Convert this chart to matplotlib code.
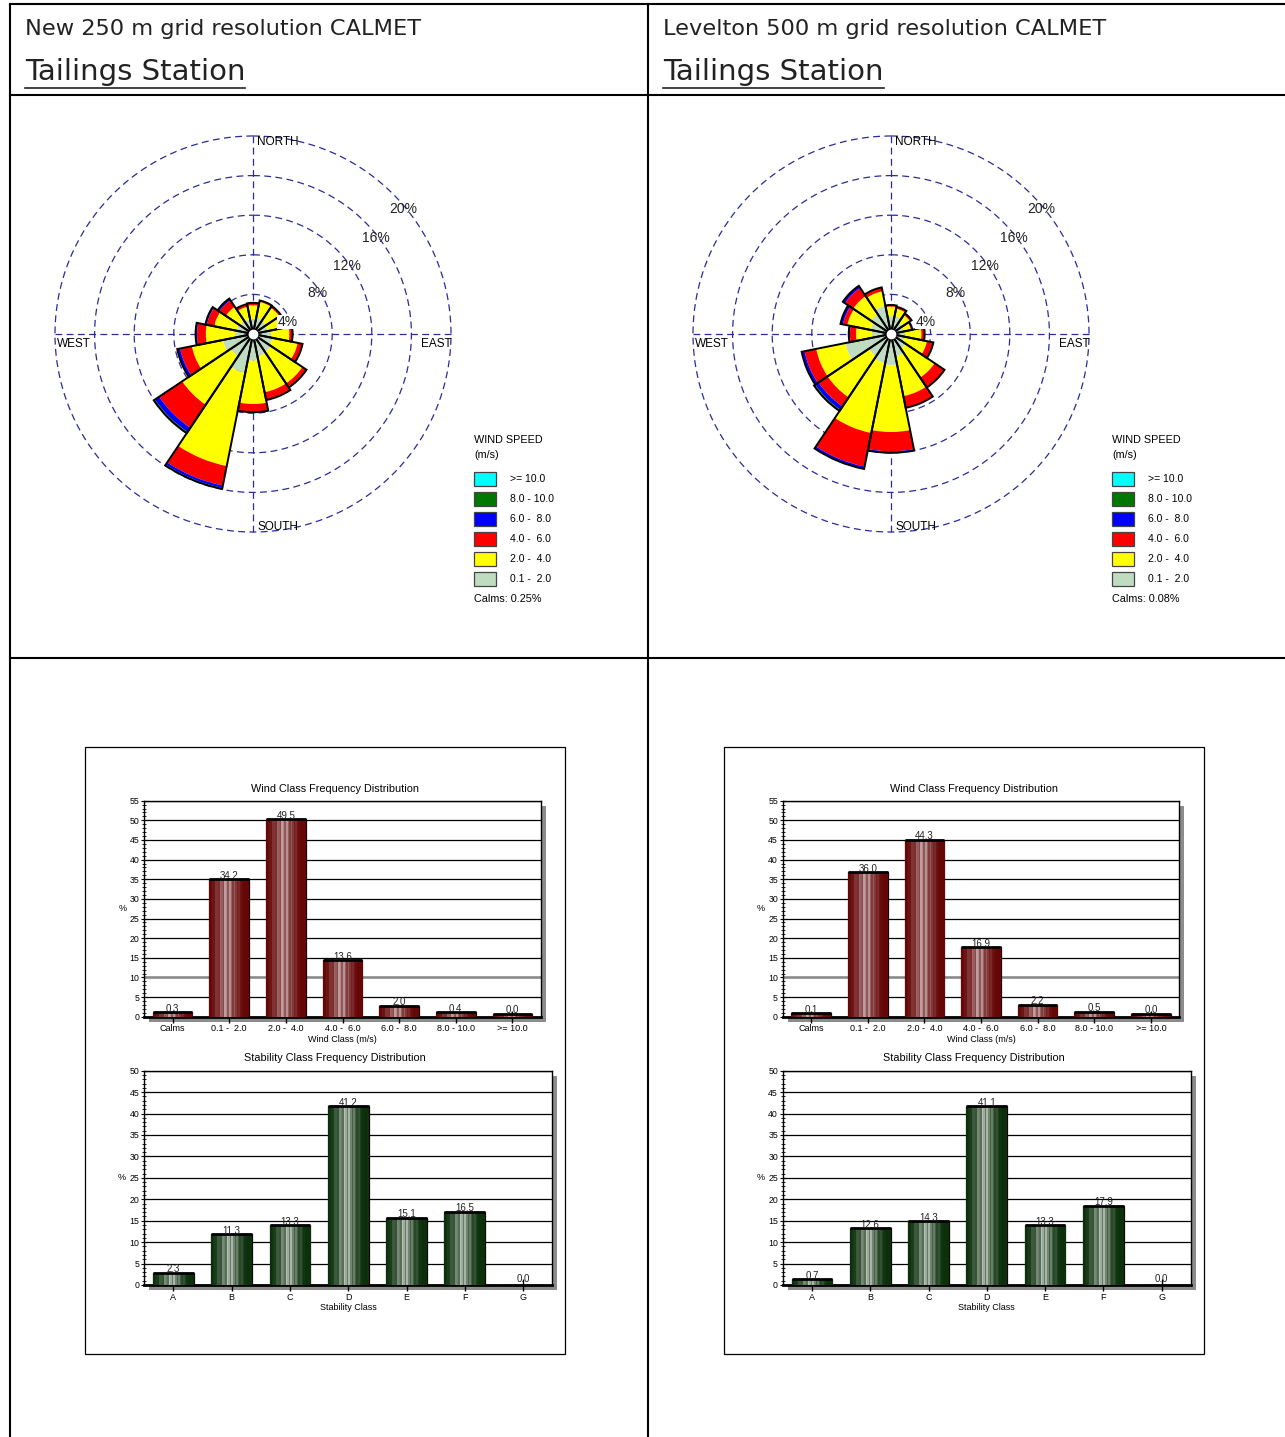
import numpy as np
import matplotlib
matplotlib.use("Agg")
import matplotlib.pyplot as plt
from matplotlib import font_manager
from matplotlib.patches import Rectangle
from matplotlib.lines import Line2D

W, H = 1285, 1437

names = {f.name for f in font_manager.fontManager.ttflist}
ARIAL = "Liberation Sans" if "Liberation Sans" in names else "DejaVu Sans"
NARROW = "Liberation Sans Narrow" if "Liberation Sans Narrow" in names else ARIAL
plt.rcParams["font.family"] = [ARIAL, "DejaVu Sans"]

# ---------------- data ----------------
directions = ["N", "NNE", "NE", "ENE", "E", "ESE", "SE", "SSE",
              "S", "SSW", "SW", "WSW", "W", "WNW", "NW", "NNW"]

# left rose: new 250 m CALMET (% per speed class and direction)
grey_L = [1.5, 1.7, 1.6, 1.5, 1.8, 2.0, 2.2, 2.3, 2.7, 4.0, 2.7, 3.1, 1.8, 1.7, 1.6, 1.5]
yellow_L = [1.4, 1.6, 1.6, 1.45, 1.87, 2.6, 3.8, 3.7, 4.37, 9.6, 5.9, 3.2, 2.97, 2.3, 1.7, 1.3]
red_L = [0.25, 0.15, 0.2, 0.15, 0.33, 0.5, 0.5, 0.8, 0.83, 2.0, 2.8, 1.2, 0.88, 0.75, 0.8, 0.27]
blue_L = [0, 0, 0, 0, 0, 0, 0, 0, 0, 0.25, 0.5, 0.3, 0.15, 0.15, 0.2, 0]
green_L = [0, 0, 0, 0, 0, 0, 0, 0, 0, 0.1, 0.15, 0, 0, 0, 0, 0]
cyan_L = [0] * 16
calms_L = 0.25

# right rose: Levelton 500 m CALMET
grey_R = [1.77, 1.85, 1.4, 1.2, 1.4, 1.4, 1.8, 2.3, 3.17, 3.0, 2.7, 4.7, 1.93, 2.1, 2.4, 2.9]
yellow_R = [1.0, 0.75, 0.9, 0.85, 1.67, 2.3, 3.5, 4.1, 6.73, 7.2, 5.0, 3.0, 1.6, 2.4, 2.2, 1.5]
red_R = [0.16, 0.2, 0.2, 0.15, 0.33, 0.66, 1.2, 1.2, 1.95, 3.45, 1.1, 1.2, 0.62, 0.45, 1.0, 0.4]
blue_R = [0, 0, 0, 0, 0, 0, 0, 0, 0.15, 0.25, 0.4, 0.3, 0.12, 0.25, 0.25, 0]
green_R = [0, 0, 0, 0, 0, 0, 0, 0, 0, 0, 0.15, 0, 0, 0, 0, 0]
cyan_R = [0] * 16
calms_R = 0.08

speed_colors = ["#c0dcc0", "#ffff00", "#ff0000", "#0000ff", "#007800", "#00ffff"]
legend_labels = [">= 10.0", "8.0 - 10.0", "6.0 -  8.0", "4.0 -  6.0", "2.0 -  4.0", "0.1 -  2.0"]
legend_colors = ["#00ffff", "#007800", "#0000ff", "#ff0000", "#ffff00", "#c0dcc0"]
rings = [4, 8, 12, 16, 20]

wind_classes = ["Calms", "0.1 -  2.0", "2.0 -  4.0", "4.0 -  6.0", "6.0 -  8.0", "8.0 - 10.0", ">= 10.0"]
wind_L = [0.3, 34.2, 49.5, 13.6, 2.0, 0.4, 0.0]
wind_R = [0.1, 36.0, 44.3, 16.9, 2.2, 0.5, 0.0]

stab_classes = ["A", "B", "C", "D", "E", "F", "G"]
stab_L = [2.3, 11.3, 13.3, 41.2, 15.1, 16.5, 0.0]
stab_R = [0.7, 12.6, 14.3, 41.1, 13.3, 17.9, 0.0]

fig = plt.figure(figsize=(W / 100, H / 100), dpi=100)


def fx(x):
    return x / W


def fy(y):
    return 1 - y / H


def fig_line(x0, y0, x1, y1, lw=1.5, color="black"):
    fig.add_artist(Line2D([fx(x0), fx(x1)], [fy(y0), fy(y1)], color=color, lw=lw,
                          transform=fig.transFigure))


# table frame
fig_line(10, 4, 1285, 4)
fig_line(10, 4, 10, 1437)
fig_line(648, 4, 648, 1437)
fig_line(10, 95, 1285, 95)
fig_line(10, 658, 1285, 658)

# headers
for x0, sub in [(25, "New 250 m grid resolution CALMET"), (663, "Levelton 500 m grid resolution CALMET")]:
    fig.text(fx(x0), fy(29), sub, fontsize=16.2, va="center", family="DejaVu Sans", color="#222222")
    t = fig.text(fx(x0), fy(72), "Tailings Station", fontsize=21, va="center",
                 family="DejaVu Sans", color="#222222")
    fig.canvas.draw()
    bb = t.get_window_extent()
    fig_line(x0, 88, x0 + bb.width, 88, lw=1.2, color="#222222")


def draw_rose(cx, cy, classes, calms, lx):
    R = 200
    ax = fig.add_axes([fx(cx - R), fy(cy + R), 2 * R / W, 2 * R / H], projection="polar")
    ax.set_theta_zero_location("N")
    ax.set_theta_direction(-1)
    ax.axis("off")
    ring_c = "#2b2b9a"
    tt = np.linspace(0, 2 * np.pi, 500)
    for r in rings:
        ax.plot(tt, np.full_like(tt, r), color=ring_c, lw=0.9, ls=(0, (5.5, 3.5)), zorder=1)
    for a in [0, 90, 180, 270]:
        ax.plot([np.deg2rad(a)] * 2, [0, 20], color=ring_c, lw=0.9, ls=(0, (5.5, 3.5)), zorder=1)

    theta = np.deg2rad(np.arange(16) * 22.5)
    width = np.deg2rad(22.5)
    bottom = np.zeros(16)
    for vals, col in zip(classes, speed_colors):
        vals = np.asarray(vals, dtype=float)
        ax.bar(theta, vals, width=width, bottom=bottom, color=col, edgecolor="none", zorder=3)
        bottom = bottom + vals
    ax.bar(theta, bottom, width=width, fill=False, edgecolor="black", lw=1.4, zorder=4)
    ax.plot([0], [0], "o", ms=6, mfc="white", mec="white", zorder=5)
    ax.set_ylim(0, 20.2)

    for r, ang in zip(rings, [71, 57.6, 54, 52, 50.3]):
        ax.text(np.deg2rad(ang), r - 0.3, f"{r}%", ha="center", va="center", fontsize=10,
                color="#222222", zorder=6,
                bbox=dict(fc="white", ec="none", pad=0.3) if r == 4 else None)
    ax.text(0.51, 0.98, "NORTH", transform=ax.transAxes, fontsize=8.5, va="center", ha="left", zorder=6)
    ax.text(0.51, 0.018, "SOUTH", transform=ax.transAxes, fontsize=8.5, va="center", ha="left", zorder=6)
    ax.text(0.01, 0.475, "WEST", transform=ax.transAxes, fontsize=8.5, va="center", ha="left", zorder=6)
    ax.text(0.997, 0.475, "EAST", transform=ax.transAxes, fontsize=8.5, va="center", ha="right", zorder=6)

    # legend
    fig.text(fx(lx), fy(440), "WIND SPEED", fontsize=7.8, va="center")
    fig.text(fx(lx), fy(455), "(m/s)", fontsize=7.8, va="center")
    for i, (lab, col) in enumerate(zip(legend_labels, legend_colors)):
        yc = 479 + 19.9 * i
        fig.add_artist(Rectangle((fx(lx), fy(yc + 7)), 22 / W, 14 / H, fc=col, ec="#444444",
                                 lw=0.9, transform=fig.transFigure))
        fig.text(fx(lx + 36), fy(yc), lab, fontsize=7.5, va="center")
    fig.text(fx(lx), fy(599), f"Calms: {calms:.2f}%", fontsize=7.8, va="center")


draw_rose(253, 334, [grey_L, yellow_L, red_L, blue_L, green_L, cyan_L], calms_L, 474)
draw_rose(891, 334, [grey_R, yellow_R, red_R, blue_R, green_R, cyan_R], calms_R, 1112)


def stripe_img(dark, light, n=26):
    i = np.arange(n)
    x = (i + 0.5) / n
    base = np.clip(1 - np.abs(x - 0.45) / 0.42, 0, 1) ** 1.3
    wob = np.where(i % 3 == 0, 0.5, np.where(i % 3 == 1, 1.0, 0.75))
    t = (base * wob)[:, None]
    d = np.array(dark)
    lt = np.array(light)
    return (d + t * (lt - d))[None, :, :]


def draw_bars(box, cats, vals, ymax, dark, light, title, title_xy, xlabel, depth, grey10, show_zero):
    x0, y0, x1, y1 = box
    ax = fig.add_axes([fx(x0), fy(y1), (x1 - x0) / W, (y1 - y0) / H])
    fig.add_artist(Rectangle((fx(x0 + 5), fy(y1 + 5)), (x1 - x0) / W, (y1 - y0) / H,
                             fc="#8c8c8c", ec="none", transform=fig.transFigure, zorder=-1))
    xs = np.arange(len(cats))
    v = np.asarray(vals, dtype=float)
    h = v + depth
    if not show_zero:
        h = np.where(v > 0, h, 0)
    bars = ax.bar(xs, h, width=0.7, color=dark, edgecolor="#140505", lw=0.9, zorder=3)
    img = stripe_img(dark, light)
    for b in bars:
        if b.get_height() <= 0:
            continue
        im = ax.imshow(img, extent=(b.get_x(), b.get_x() + b.get_width(), 0, b.get_height()),
                       aspect="auto", interpolation="nearest", zorder=3.5)
        im.set_clip_path(b)
    top = h > 0
    ax.hlines(h[top], xs[top] - 0.35, xs[top] + 0.35, color="black", lw=2, zorder=4)
    for x, vv, hh in zip(xs, v, h):
        ax.text(x, hh - 0.4 if hh > 0 else 0.2, f"{vv:.1f}", ha="center", va="bottom",
                fontsize=7, family=NARROW, color="#222222", zorder=5)
    ax.set_xlim(-0.5, len(cats) - 0.5)
    ax.set_ylim(0, ymax)
    ax.set_yticks(np.arange(0, ymax + 1, 5))
    ax.set_yticks(np.arange(0, ymax + 1, 1), minor=True)
    ax.set_xticks(xs)
    ax.set_xticklabels(cats)
    ax.yaxis.grid(True, which="major", color="black", lw=0.9)
    ax.set_axisbelow(True)
    if grey10:
        ax.axhline(10, color="#8a8a8a", lw=1.8, zorder=0.6)
    ax.tick_params(axis="x", direction="inout", length=9, width=1, labelsize=6.5, pad=1)
    ax.tick_params(axis="y", which="major", direction="inout", length=5, labelsize=6.3, pad=1)
    ax.tick_params(axis="y", which="minor", direction="inout", length=3)
    for lab in ax.get_xticklabels() + ax.get_yticklabels():
        lab.set_family(NARROW)
    ax.spines["bottom"].set_linewidth(2)
    for s in ["left", "top", "right"]:
        ax.spines[s].set_linewidth(1)
    ax.set_ylabel("%", rotation=0, fontsize=6.5, family=NARROW, va="center")
    ax.yaxis.set_label_coords(-0.055, 0.5)
    ax.set_xlabel(xlabel, fontsize=6.5, family=NARROW, labelpad=1)
    fig.text(fx(title_xy[0]), fy(title_xy[1]), title, fontsize=7.8, family=NARROW,
             ha="center", va="center")


red_dark, red_light = (0.40, 0.03, 0.03), (0.80, 0.72, 0.72)
grn_dark, grn_light = (0.05, 0.19, 0.05), (0.82, 0.85, 0.82)

for off, wv, sv in [(0, wind_L, stab_L), (638.5, wind_R, stab_R)]:
    fig.add_artist(Rectangle((fx(85 + off), fy(1354)), 480 / W, 607 / H, fill=False, ec="black",
                             lw=0.9, transform=fig.transFigure))
    draw_bars((144.3 + off, 800.7, 540.7 + off, 1016.7), wind_classes, wv, 55,
              red_dark, red_light, "Wind Class Frequency Distribution", (335 + off, 789),
              "Wind Class (m/s)", 0.8, True, True)
    draw_bars((144.3 + off, 1070.7, 552.3 + off, 1285), stab_classes, sv, 50,
              grn_dark, grn_light, "Stability Class Frequency Distribution", (335 + off, 1058),
              "Stability Class", 0.6, False, False)

fig.savefig("out.png", dpi=100)
